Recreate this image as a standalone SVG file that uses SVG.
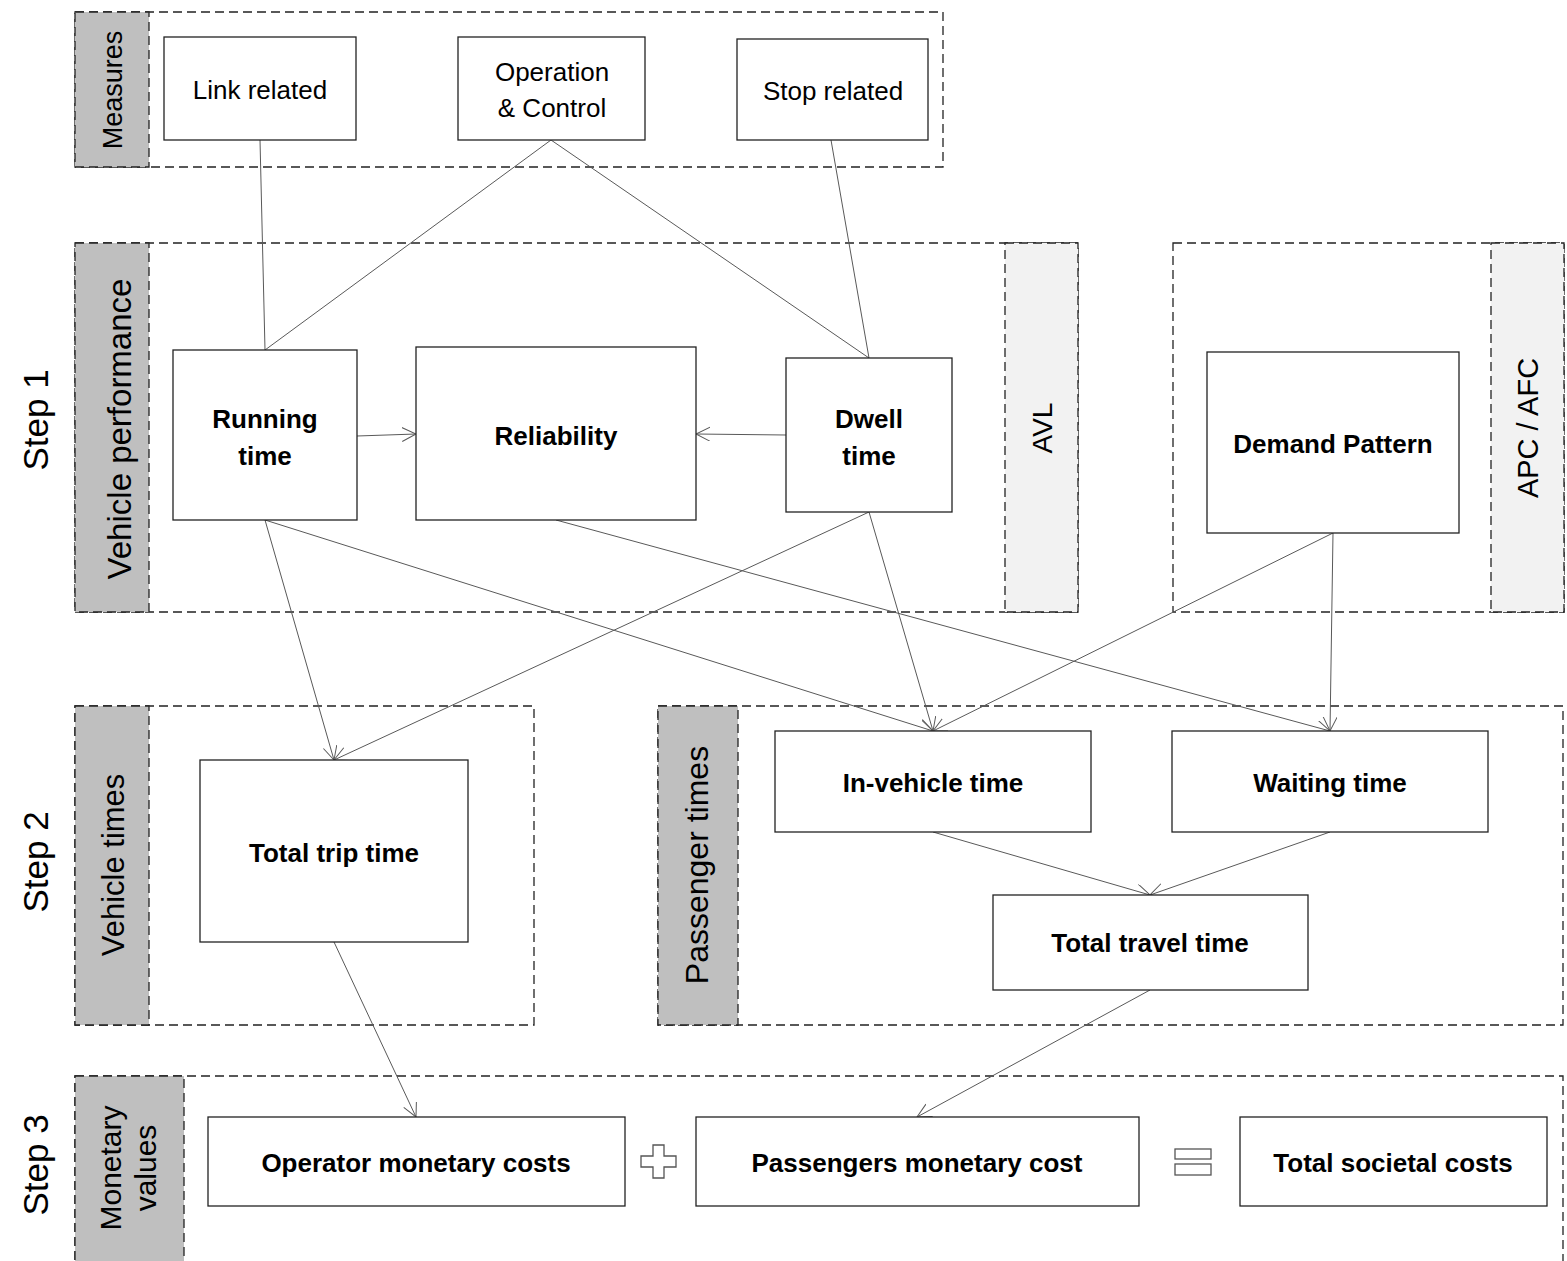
<svg xmlns="http://www.w3.org/2000/svg" width="1567" height="1261" viewBox="0 0 1567 1261">
<style>
text{font-family:"Liberation Sans",Arial,sans-serif;fill:#000}
.cont{fill:none;stroke:#222;stroke-width:1.3;stroke-dasharray:9,5}
.pd{fill:#bfbfbf;stroke:#222;stroke-width:1.3;stroke-dasharray:9,5}
.pl{fill:#f2f2f2;stroke:#222;stroke-width:1.3;stroke-dasharray:9,5}
.box{fill:#fff;stroke:#222;stroke-width:1.3}
.n{font-size:26px;text-anchor:middle}
.b{font-size:26px;font-weight:bold;text-anchor:middle}
.lab{font-size:31px;text-anchor:middle}
.step{font-size:35px;text-anchor:middle}
.con line{stroke:#595959;stroke-width:1}
.sym{fill:#fff;stroke:#555;stroke-width:1.3}
</style>
<defs>
<marker id="arr" markerUnits="userSpaceOnUse" markerWidth="16" markerHeight="16" refX="14" refY="7" orient="auto">
<path d="M0,0 L14,7 L0,14" fill="none" stroke="#595959" stroke-width="1"/>
</marker>
</defs>
<rect width="1567" height="1261" fill="#fff"/>

<g id="steps">
<text class="step" transform="translate(48,420) rotate(-90)">Step 1</text>
<text class="step" transform="translate(48,862) rotate(-90)">Step 2</text>
<text class="step" transform="translate(48,1165) rotate(-90)">Step 3</text>
</g>

<g id="measures-group">
<rect class="cont" x="75" y="12" width="868" height="155"/>
<rect class="pd" x="75" y="12" width="74" height="155"/>
<text class="lab" style="font-size:27px" transform="translate(122,90) rotate(-90)">Measures</text>
</g>

<g id="vehicle-performance-group">
<rect class="cont" x="75" y="243" width="1003" height="369"/>
<rect class="pd" x="75" y="243" width="74" height="369"/>
<text class="lab" style="font-size:33px" transform="translate(131,429) rotate(-90)">Vehicle performance</text>
<rect class="pl" x="1005" y="243" width="73" height="369"/>
<text class="lab" style="font-size:28px" transform="translate(1052,428) rotate(-90)">AVL</text>
</g>

<g id="demand-group">
<rect class="cont" x="1173" y="243" width="391" height="369"/>
<rect class="pl" x="1491" y="243" width="73" height="369"/>
<text class="lab" style="font-size:29px" transform="translate(1538,428) rotate(-90)">APC / AFC</text>
</g>

<g id="vehicle-times-group">
<rect class="cont" x="75" y="706" width="459" height="319"/>
<rect class="pd" x="75" y="706" width="74" height="319"/>
<text class="lab" transform="translate(124,865) rotate(-90)">Vehicle times</text>
</g>

<g id="passenger-times-group">
<rect class="cont" x="658" y="706" width="905" height="319"/>
<rect class="pd" x="658" y="706" width="80" height="319"/>
<text class="lab" style="font-size:32px" transform="translate(708,865) rotate(-90)">Passenger times</text>
</g>

<g id="monetary-group">
<rect class="cont" x="75" y="1076" width="1488" height="200"/>
<rect class="pd" x="75" y="1076" width="109" height="200"/>
<text class="lab" style="font-size:30px" transform="translate(121,1168) rotate(-90)">Monetary</text>
<text class="lab" style="font-size:30px" transform="translate(156,1168) rotate(-90)">values</text>
</g>

<g class="con" id="connectors">
<line x1="260" y1="140" x2="265" y2="350"/>
<line x1="551" y1="140" x2="265" y2="350"/>
<line x1="551" y1="140" x2="869" y2="358"/>
<line x1="831" y1="140" x2="869" y2="358"/>
<line x1="357" y1="436" x2="416" y2="434" marker-end="url(#arr)"/>
<line x1="786" y1="435" x2="696" y2="434" marker-end="url(#arr)"/>
<line x1="265" y1="520" x2="334" y2="760" marker-end="url(#arr)"/>
<line x1="869" y1="512" x2="334" y2="760" marker-end="url(#arr)"/>
<line x1="265" y1="520" x2="933" y2="731" marker-end="url(#arr)"/>
<line x1="869" y1="512" x2="933" y2="731" marker-end="url(#arr)"/>
<line x1="1333" y1="533" x2="933" y2="731" marker-end="url(#arr)"/>
<line x1="556" y1="520" x2="1330" y2="731" marker-end="url(#arr)"/>
<line x1="1333" y1="533" x2="1330" y2="731" marker-end="url(#arr)"/>
<line x1="933" y1="832" x2="1150" y2="895" marker-end="url(#arr)"/>
<line x1="1330" y1="832" x2="1150" y2="895" marker-end="url(#arr)"/>
<line x1="334" y1="942" x2="416" y2="1117" marker-end="url(#arr)"/>
<line x1="1150" y1="990" x2="917" y2="1117" marker-end="url(#arr)"/>
</g>

<g id="link-related"><rect class="box" x="164" y="37" width="192" height="103"/><text class="n" x="260" y="99">Link related</text></g>
<g id="operation-control"><rect class="box" x="458" y="37" width="187" height="103"/><text class="n" x="552" y="81">Operation</text><text class="n" x="552" y="117">&amp; Control</text></g>
<g id="stop-related"><rect class="box" x="737" y="39" width="191" height="101"/><text class="n" x="833" y="100">Stop related</text></g>
<g id="running-time"><rect class="box" x="173" y="350" width="184" height="170"/><text class="b" x="265" y="428">Running</text><text class="b" x="265" y="465">time</text></g>
<g id="reliability"><rect class="box" x="416" y="347" width="280" height="173"/><text class="b" x="556" y="445">Reliability</text></g>
<g id="dwell-time"><rect class="box" x="786" y="358" width="166" height="154"/><text class="b" x="869" y="428">Dwell</text><text class="b" x="869" y="465">time</text></g>
<g id="demand-pattern"><rect class="box" x="1207" y="352" width="252" height="181"/><text class="b" x="1333" y="453">Demand Pattern</text></g>
<g id="total-trip-time"><rect class="box" x="200" y="760" width="268" height="182"/><text class="b" x="334" y="862">Total trip time</text></g>
<g id="in-vehicle-time"><rect class="box" x="775" y="731" width="316" height="101"/><text class="b" x="933" y="792">In-vehicle time</text></g>
<g id="waiting-time"><rect class="box" x="1172" y="731" width="316" height="101"/><text class="b" x="1330" y="792">Waiting time</text></g>
<g id="total-travel-time"><rect class="box" x="993" y="895" width="315" height="95"/><text class="b" x="1150" y="952">Total travel time</text></g>
<g id="operator-costs"><rect class="box" x="208" y="1117" width="417" height="89"/><text class="b" x="416" y="1172">Operator monetary costs</text></g>
<g id="passenger-costs"><rect class="box" x="696" y="1117" width="443" height="89"/><text class="b" x="917" y="1172">Passengers monetary cost</text></g>
<g id="societal-costs"><rect class="box" x="1240" y="1117" width="307" height="89"/><text class="b" x="1393" y="1172">Total societal costs</text></g>

<g id="plus"><path class="sym" d="M653,1145 H664 V1156 H676 V1167 H664 V1178 H653 V1167 H641 V1156 H653 Z"/></g>
<g id="equals"><rect class="sym" x="1175" y="1149" width="36" height="10"/><rect class="sym" x="1175" y="1164" width="36" height="11"/></g>
</svg>
